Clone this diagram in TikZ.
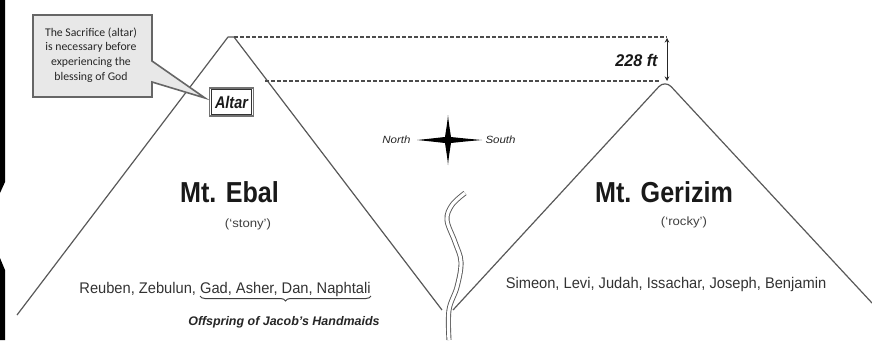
\documentclass[tikz,border=0pt]{standalone}
\usepackage{fontspec}
\setmainfont{Liberation Sans}
\newfontfamily\calfont{Carlito}
\usetikzlibrary{decorations.pathreplacing,arrows.meta}
\newcommand{\nrw}[2][0.9]{\scalebox{#1}[1]{#2}}
\begin{document}
\begin{tikzpicture}[x=1bp,y=-1bp,
  mline/.style={draw=black!65, line width=1.2bp, line join=round},
  dashline/.style={draw=black!70, line width=1.5bp, dash pattern=on 3.5bp off 2.5bp},
  title/.style={anchor=base, text=black!90, font=\bfseries\fontsize{29}{29}\selectfont},
  meaning/.style={text=black!75, font=\fontsize{12}{12}\selectfont},
  tribes/.style={anchor=base, text=black!80, font=\fontsize{15.5}{15.5}\selectfont},
  compasslbl/.style={text=black!85, font=\itshape\fontsize{10.5}{10.5}\selectfont}]
\useasboundingbox (0,0) rectangle (872,340);
\fill[white] (0,0) rectangle (872,340);
% black edge of the screenshot
\fill[black] (0,0) -- (5,0) -- (5,182) -- (0,193) -- cycle;
\fill[black] (0,258) -- (5,270) -- (5,340) -- (0,340) -- cycle;

% mountains
\coordinate (ebL) at (17,315);
\coordinate (ebT1) at (228,37);
\coordinate (ebT) at (234,37);
\coordinate (ebR) at (442,310);
\draw[mline] (ebL) -- (ebT1) -- (ebT) -- (ebR);
\coordinate (grL) at (453,310);
\coordinate (grT) at (665,80);
\coordinate (grR) at (872,303);
\draw[mline, rounded corners=9bp] (grL) -- (grT) -- (grR);

% height comparison
\coordinate (dTR) at (667,37);
\coordinate (dBL) at (265,81);
\coordinate (dBR) at (660,81);
\draw[dashline] (ebT) -- (dTR);
\draw[dashline] (dBL) -- (dBR);
\coordinate (aT) at (667,38);
\coordinate (aB) at (667,81);
\draw[black!85, line width=0.9bp, {Stealth[length=4.5bp,width=4.5bp]}-{Stealth[length=4.5bp,width=4.5bp]}] (aT) -- (aB);
\node[anchor=east, text=black!90, font=\bfseries\itshape\fontsize{17}{17}\selectfont] (ht) at (661,60) {\nrw[0.95]{228 ft}};

% river
\draw[draw=black!65, line width=0.9bp, double=white, double distance=3.2bp]
  plot[smooth, tension=0.6] coordinates {(465,193) (452,205) (447,220) (455,242) (461,262) (457,287) (449,310) (449,340)};

% compass
\coordinate (cc) at (448,140);
\fill[black] (417,140) .. controls (432,138.5) and (440,137.5) .. (445,137)
  .. controls (446,130) and (447.5,122) .. (448,115)
  .. controls (448.5,122) and (450,130) .. (451,137)
  .. controls (460,138) and (470,139) .. (482,140)
  .. controls (470,141) and (460,142) .. (451,143)
  .. controls (450,150) and (448.5,158) .. (448,165)
  .. controls (447.5,158) and (446,150) .. (445,143)
  .. controls (440,142.5) and (432,141.5) .. (417,140) -- cycle;
\node[compasslbl, anchor=east] (north) at (414,140) {\nrw[1.1]{North}};
\node[compasslbl, anchor=west] (south) at (482,140) {\nrw[1.1]{South}};

% callout
\draw[draw=black!60, line width=1.6bp, fill=black!9, line join=miter]
  (33,15) -- (152,15) -- (152,61) -- (205,98) -- (152,82) -- (152,97) -- (33,97) -- cycle;
\node[align=center, text=black!85, font=\calfont\fontsize{11.8}{14.8}\selectfont] (call) at (91,55)
  {The Sacrifice (altar)\\is necessary before\\experiencing the\\blessing of God};

% altar
\node[draw=black!55, line width=1.4bp, fill=white,
  minimum width=44bp, minimum height=28bp, inner sep=0pt, text=black!90,
  font=\bfseries\itshape\fontsize{17}{17}\selectfont] (altar) at (231.5,102) {\nrw[0.85]{Altar}};
\draw[black!80, line width=0.8bp] ([shift={(2.5,2.5)}]altar.north west) rectangle ([shift={(-2.5,-2.5)}]altar.south east);

% Mt. Ebal
\node[title] (ebal) at (229.5,202) {\nrw[0.87]{Mt. Ebal}};
\node[meaning] (stony) at (248,224) {\nrw[1.1]{(‘stony’)}};
\node[tribes] (ebtribes) at (225,293) {\nrw[0.95]{Reuben, Zebulun, Gad, Asher, Dan, Naphtali}};
\coordinate (brL) at (200,296);
\coordinate (brR) at (371,296);
\draw[black!75, line width=1bp, decorate, decoration={brace, mirror, amplitude=5bp}] (brL) -- (brR);
\node[text=black!85, font=\bfseries\itshape\fontsize{12.5}{12.5}\selectfont] (offs) at (284,322) {Offspring of Jacob's Handmaids};

% Mt. Gerizim
\node[title] (gerizim) at (664,202) {\nrw[0.87]{Mt. Gerizim}};
\node[meaning] (rocky) at (684,222) {\nrw[1.1]{(‘rocky’)}};
\node[tribes] (grtribes) at (666,288) {\nrw[0.95]{Simeon, Levi, Judah, Issachar, Joseph, Benjamin}};
\end{tikzpicture}
\end{document}
